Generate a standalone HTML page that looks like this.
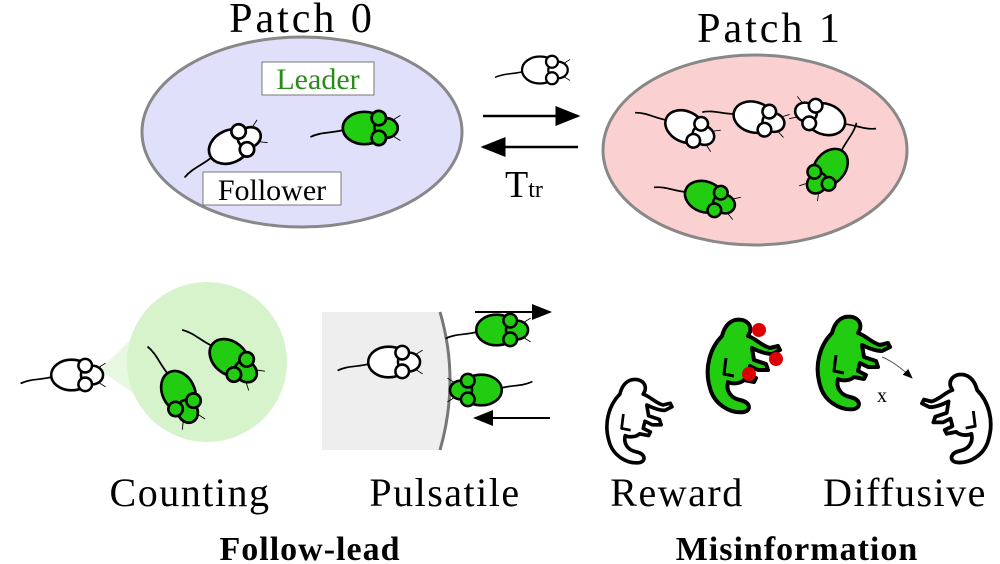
<!DOCTYPE html>
<html><head><meta charset="utf-8"><style>
html,body{margin:0;padding:0;background:#fff}
svg{display:block}
text{font-family:"Liberation Serif",serif}
</style></head><body>
<svg width="1000" height="564" viewBox="0 0 1000 564" xmlns="http://www.w3.org/2000/svg">
<defs>
<g id="m" stroke="#000" stroke-width="3">
<path d="M-26,2 C-40,6 -52,4 -64,10" fill="none" stroke-width="2"/>
<ellipse cx="-4" cy="0" rx="24" ry="18"/>
<ellipse cx="20" cy="0" rx="13" ry="11"/>
<circle cx="12" cy="-11" r="8"/>
<circle cx="12" cy="11" r="8"/>
<path d="M28,-9 L36,-14 M28,9 L36,14" stroke-width="1"/>
</g>
<g id="k" stroke="#000" stroke-width="4" stroke-linejoin="round">
<path d="M35,2 C45,0 52,6 50,14 L48,18 C55,20 62,28 70,30 L78,28 L80,32 L72,36 C64,36 56,32 52,30 L54,42 L66,46 L68,52 L58,52 L50,48 L48,56 L56,60 L54,64 L44,62 C40,66 32,66 28,64 C26,72 30,80 40,82 C50,84 52,92 44,94 C30,96 14,86 10,70 C4,50 10,30 22,18 C24,10 28,4 35,2 Z"/>
<path d="M26,40 L24,56 L34,58" fill="none" stroke-width="3"/>
</g>
<marker id="ah" markerWidth="10" markerHeight="8" refX="9" refY="4" orient="auto"><path d="M0,0 L10,4 L0,8 Z" fill="#000"/></marker>
</defs>
<ellipse cx="302" cy="132" rx="160" ry="95" fill="#e0e0fa" stroke="#888" stroke-width="3"/>
<ellipse cx="755" cy="150" rx="152" ry="95" fill="#fbd0d0" stroke="#888" stroke-width="3"/>
<text x="302" y="32" font-size="42" letter-spacing="3" text-anchor="middle">Patch 0</text>
<text x="770" y="42" font-size="42" letter-spacing="3" text-anchor="middle">Patch 1</text>
<rect x="262" y="62" width="112" height="33" fill="#fff" stroke="#777"/>
<text x="318" y="89" font-size="30" text-anchor="middle" fill="#2a8a1a">Leader</text>
<rect x="203" y="172" width="138" height="33" fill="#fff" stroke="#777"/>
<text x="272" y="200" font-size="30" text-anchor="middle">Follower</text>
<use href="#m" transform="translate(233,145) rotate(-25) scale(0.9)" fill="#fff"/>
<use href="#m" transform="translate(368,128) scale(0.9)" fill="#22cc11"/>
<use href="#m" transform="translate(543,70) scale(0.75)" fill="#fff"/>
<line x1="483" y1="116" x2="578" y2="116" stroke="#000" stroke-width="2.5" marker-end="url(#ah)"/>
<line x1="578" y1="147" x2="483" y2="147" stroke="#000" stroke-width="2.5" marker-end="url(#ah)"/>
<text x="505" y="197" font-size="38">T<tspan font-size="24">tr</tspan></text>
<use href="#m" transform="translate(688,128) rotate(25) scale(0.85)" fill="#fff"/>
<use href="#m" transform="translate(757,118) rotate(15) scale(0.85)" fill="#fff"/>
<use href="#m" transform="translate(822,118) rotate(200) scale(0.85)" fill="#fff"/>
<use href="#m" transform="translate(708,198) rotate(20) scale(0.85)" fill="#22cc11"/>
<use href="#m" transform="translate(828,170) rotate(130) scale(0.85)" fill="#22cc11"/>
<path d="M100,370 L180,290 L200,440 Z" fill="#e6f8e0"/>
<circle cx="207" cy="362" r="80" fill="#d6f3cc"/>
<use href="#m" transform="translate(75,375) scale(0.85)" fill="#fff"/>
<use href="#m" transform="translate(180,395) rotate(65) scale(0.9)" fill="#22cc11"/>
<use href="#m" transform="translate(232,360) rotate(40) scale(0.9)" fill="#22cc11"/>
<path d="M322,312 L440,312 Q460,380 440,450 L322,450 Z" fill="#eee"/>
<path d="M440,312 Q460,380 440,450" fill="none" stroke="#777" stroke-width="3"/>
<use href="#m" transform="translate(392,362) scale(0.85)" fill="#fff"/>
<use href="#m" transform="translate(500,330) scale(0.85)" fill="#22cc11"/>
<use href="#m" transform="translate(478,390) rotate(180) scale(0.85)" fill="#22cc11"/>
<line x1="475" y1="312" x2="550" y2="312" stroke="#000" stroke-width="2" marker-end="url(#ah)"/>
<line x1="550" y1="418" x2="475" y2="418" stroke="#000" stroke-width="2" marker-end="url(#ah)"/>
<use href="#k" transform="translate(600,378) scale(0.9)" fill="#fff"/>
<use href="#k" transform="translate(700,318)" fill="#22cc11"/>
<use href="#k" transform="translate(810,315)" fill="#22cc11"/>
<use href="#k" transform="translate(998,373) scale(-0.95,0.95)" fill="#fff"/>
<circle cx="759" cy="330" r="7" fill="#d00"/>
<circle cx="776" cy="359" r="7" fill="#d00"/>
<circle cx="749" cy="374" r="7" fill="#d00"/>
<path d="M882,357 Q895,362 912,378" fill="none" stroke="#555" stroke-width="1" marker-end="url(#ah)"/>
<text x="877" y="402" font-size="20">x</text>
<text x="190" y="506" font-size="40" letter-spacing="1.5" text-anchor="middle">Counting</text>
<text x="445" y="506" font-size="40" letter-spacing="1.5" text-anchor="middle">Pulsatile</text>
<text x="677" y="506" font-size="40" letter-spacing="1.5" text-anchor="middle">Reward</text>
<text x="905" y="506" font-size="40" letter-spacing="1.5" text-anchor="middle">Diffusive</text>
<text x="310" y="560" font-size="34" letter-spacing="1" font-weight="bold" text-anchor="middle">Follow-lead</text>
<text x="797" y="560" font-size="34" letter-spacing="1" font-weight="bold" text-anchor="middle">Misinformation</text>
</svg>
</body></html>
